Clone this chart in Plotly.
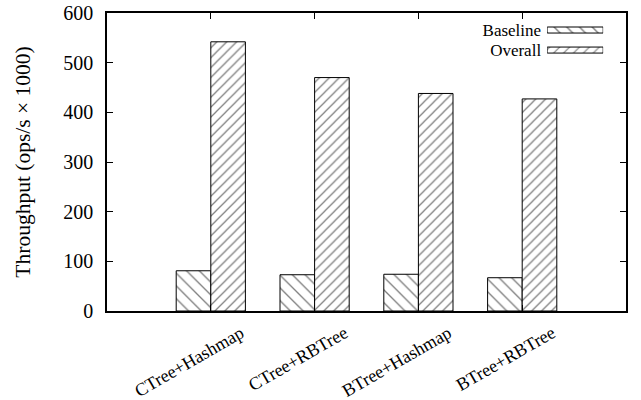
import plotly.graph_objects as go

# Throughput per index/storage combination
categories = ["CTree+Hashmap", "CTree+RBTree", "BTree+Hashmap", "BTree+RBTree"]
baseline = [81, 73, 74, 67]
overall = [542, 470, 438, 427]
y_ticks = [0, 100, 200, 300, 400, 500, 600]
series_names = ["Baseline", "Overall"]

FONT = "Liberation Serif"

fig = go.Figure()

fig.add_trace(go.Bar(
    x=categories, y=baseline, name=series_names[0], showlegend=False,
    marker=dict(color="white", line=dict(color="black", width=1),
                pattern=dict(shape="\\", size=9, solidity=0.15,
                             fgcolor="black", bgcolor="white")),
))
fig.add_trace(go.Bar(
    x=categories, y=overall, name=series_names[1], showlegend=False,
    marker=dict(color="white", line=dict(color="black", width=1),
                pattern=dict(shape="/", size=7, solidity=0.18,
                             fgcolor="black", bgcolor="white")),
))

# Key: text on the left, hatched sample on the right
fig.add_trace(go.Bar(
    x=[1, 1], y=series_names, orientation="h", xaxis="x2", yaxis="y2",
    showlegend=False, hoverinfo="skip", width=0.3,
    marker=dict(color="white", line=dict(color="black", width=1),
                pattern=dict(shape=["\\", "/"], size=[9, 7], solidity=0.16,
                             fgcolor="black", bgcolor="white")),
))

fig.update_layout(
    width=641, height=400,
    margin=dict(l=107, r=15, t=13, b=89),
    paper_bgcolor="white", plot_bgcolor="white",
    font=dict(family=FONT, size=20, color="black"),
    barmode="group", bargap=1/3, bargroupgap=0,
    xaxis=dict(
        range=[-1, 4], showgrid=False, zeroline=False, automargin=False,
        showline=True, linecolor="black", linewidth=1.5, mirror="ticks",
        ticks="inside", ticklen=6, tickcolor="black", tickwidth=1,
        tickangle=-30, tickfont=dict(size=18, family=FONT),
        ticklabelshift=30, ticklabelstandoff=3,
    ),
    yaxis=dict(
        range=[0, 600], tickvals=y_ticks, showgrid=False, zeroline=False,
        automargin=False,
        showline=True, linecolor="black", linewidth=1.5, mirror="ticks",
        ticks="inside", ticklen=6, tickcolor="black", tickwidth=1,
        tickfont=dict(size=20, family=FONT), ticklabelstandoff=8,
        title=dict(text="Throughput (ops/s \u00d7 1000)",
                   font=dict(size=21.5, family=FONT), standoff=27),
    ),
    xaxis2=dict(domain=[0.848, 0.956], range=[0, 1], visible=False,
                anchor="y2", automargin=False),
    yaxis2=dict(domain=[0.842, 0.9765], anchor="x2", autorange="reversed",
                tickmode="array", tickvals=series_names, automargin=False,
                showgrid=False, zeroline=False, showline=False, ticks="",
                tickfont=dict(size=17, family=FONT), ticklabelstandoff=5),
)

fig.write_html("out.html")
